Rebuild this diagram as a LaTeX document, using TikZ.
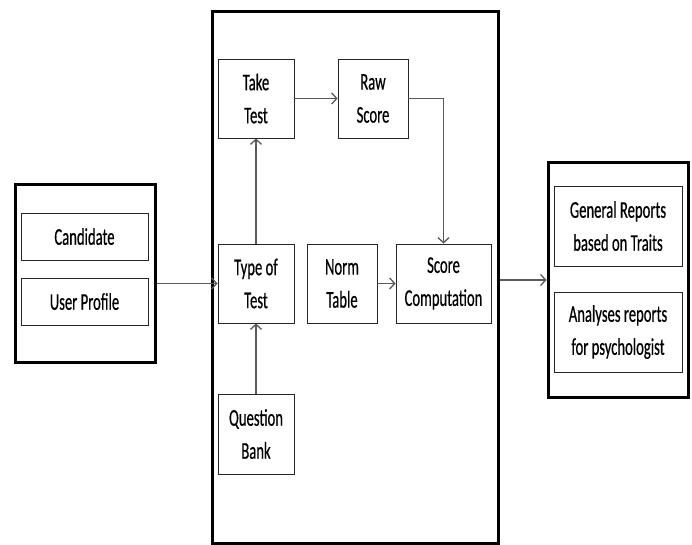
\documentclass[tikz,border=0pt]{standalone}
\usepackage{fontspec}
\setmainfont{Carlito}[FakeStretch=0.61,FakeBold=0.5]
\usetikzlibrary{arrows.meta}
\begin{document}
\begin{tikzpicture}[x=1pt,y=-1pt,
  box/.style={draw=black!85, line width=0.9pt, align=center, inner sep=0pt,
    font=\fontsize{24}{33}\selectfont},
  group/.style={draw=black, line width=3pt, inner sep=0pt},
  flow/.style={draw=black!65, line width=1.3pt, -{Straight Barb[length=5pt,width=11pt]}}]
\useasboundingbox (0,0) rectangle (692,545);

% left group: candidate data
\node[group, minimum width=140, minimum height=177] (leftgrp) at (85,273.5) {};
\node[box, minimum width=127, minimum height=47] (cand) at (84.5,236.5) {Candidate};
\node[box, minimum width=127, minimum height=47] (prof) at (84.5,301.5) {User Profile};

% middle group: testing and scoring
\node[group, minimum width=286, minimum height=531] (midgrp) at (355,277.5) {};
\node[box, minimum width=76, minimum height=79] (take) at (256,98.5) {Take\\Test};
\node[box, minimum width=70, minimum height=79] (raw) at (373,98.5) {Raw\\Score};
\node[box, minimum width=76, minimum height=79] (typ) at (256,283.5) {Type of\\Test};
\node[box, minimum width=70, minimum height=79] (norm) at (342,283.5) {Norm\\Table};
\node[box, minimum width=95, minimum height=79] (score) at (443.5,283.5) {Score\\Computation};
\node[box, minimum width=76, minimum height=80] (qb) at (256,434) {Question\\Bank};

% right group: reports
\node[group, minimum width=140, minimum height=234] (rightgrp) at (618,280) {};
\node[box, minimum width=128, minimum height=80] (gen) at (618,226) {General Reports\\based on Traits};
\node[box, minimum width=128, minimum height=80] (ana) at (618,332) {Analyses reports\\for psychologist};

% connectors
\draw[flow] (leftgrp.east |- typ.west) -- (typ.west);
\draw[flow] (qb.north) -- (typ.south);
\draw[flow] (typ.north) -- (take.south);
\draw[flow] (take.east) -- (raw.west);
\draw[flow] (raw.east) -| (score.north);
\draw[flow] (norm.east) -- (score.west);
\draw[flow] (midgrp.east |- rightgrp.west) -- (rightgrp.west);
\end{tikzpicture}
\end{document}
